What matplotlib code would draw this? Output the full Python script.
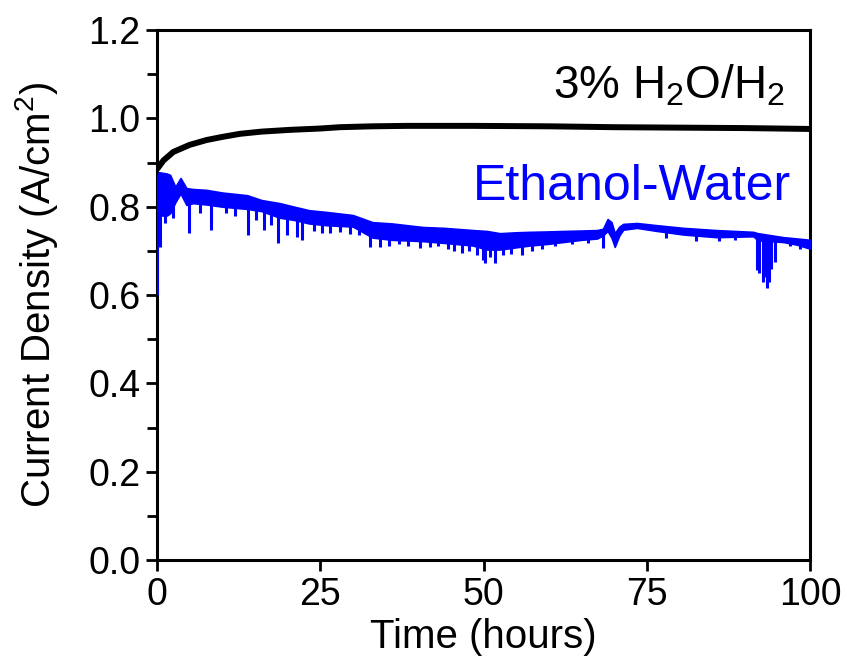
import numpy as np
import matplotlib
matplotlib.use('Agg')
import matplotlib.pyplot as plt

plt.rcParams['font.family'] = ['Liberation Sans', 'DejaVu Sans']
plt.rcParams['mathtext.fontset'] = 'custom'
plt.rcParams['mathtext.rm'] = 'Liberation Sans'

# 3% H2O/H2 run (black)
h2_time = [0, 0.5, 1, 2.5, 5, 7.6, 10, 12.7, 16, 20.4, 25, 28, 33, 38.3,
           48.4, 60, 70, 80, 90, 100]
h2_current = [0.885, 0.895, 0.905, 0.924, 0.94, 0.951, 0.958, 0.965, 0.97,
              0.974, 0.977, 0.98, 0.982, 0.983, 0.983, 0.982, 0.98, 0.979,
              0.978, 0.976]

# Ethanol-water run (blue): noisy band read as upper / lower envelope
eth_time = [0, 0.3, 1.5, 2.0, 2.8, 3.6, 4.5, 5.5, 7.6, 10, 13.8, 16, 18.8,
            21, 23.3, 26, 30, 33, 36, 40.7, 44, 48.4, 50.5, 52.5, 55, 57,
            60, 62.2, 65, 67.4, 68.3, 69, 69.6, 70.1, 70.8, 71.4, 73.5,
            76.6, 80.6, 85.7, 91.3, 92, 95.9, 98, 100]
eth_upper = [0.87, 0.878, 0.875, 0.872, 0.845, 0.865, 0.842, 0.84, 0.838,
             0.832, 0.826, 0.815, 0.808, 0.80, 0.792, 0.788, 0.781, 0.765,
             0.762, 0.754, 0.752, 0.747, 0.745, 0.74, 0.742, 0.743, 0.744,
             0.745, 0.746, 0.747, 0.75, 0.772, 0.765, 0.74, 0.755, 0.761,
             0.763, 0.758, 0.752, 0.747, 0.743, 0.74, 0.731, 0.728, 0.725]
eth_lower = [0.80, 0.78, 0.78, 0.785, 0.81, 0.83, 0.804, 0.808, 0.805,
             0.80, 0.795, 0.79, 0.775, 0.77, 0.762, 0.758, 0.755, 0.73,
             0.725, 0.722, 0.718, 0.712, 0.703, 0.703, 0.708, 0.712, 0.716,
             0.72, 0.725, 0.728, 0.735, 0.745, 0.73, 0.709, 0.735, 0.748,
             0.752, 0.745, 0.737, 0.731, 0.733, 0.724, 0.72, 0.714, 0.705]

# downward spikes in the ethanol-water trace (time, lowest value)
spike_time = [0.0, 0.5, 1.2, 2.4, 4.9, 6.6, 8.3, 10.5, 12.0, 13.9, 15.2,
              16.4, 17.5, 18.5, 19.9, 21.4, 22.2, 24.0, 25.2, 26.5, 28.0,
              29.5, 31.0, 32.6, 34.1, 35.5, 37.0, 38.5, 40.3, 41.8, 43.0,
              44.5, 45.5, 46.7, 47.8, 49.0, 49.9, 50.2, 51.0, 51.8, 53.0,
              54.2, 55.9, 57.5, 59.0, 61.0, 63.5, 66.0, 68.3, 78.0, 82.5,
              86.0, 88.5, 91.9, 92.2, 92.8, 93.0, 93.4, 93.7, 94.0, 94.6,
              97.0, 98.5]
spike_low = [0.60, 0.709, 0.763, 0.775, 0.74, 0.785, 0.747, 0.785, 0.78,
             0.736, 0.77, 0.747, 0.758, 0.718, 0.736, 0.731, 0.725, 0.745,
             0.74, 0.74, 0.742, 0.738, 0.735, 0.709, 0.709, 0.712, 0.715,
             0.71, 0.706, 0.708, 0.71, 0.705, 0.7, 0.695, 0.7, 0.69, 0.679,
             0.672, 0.685, 0.672, 0.69, 0.693, 0.69, 0.7, 0.705, 0.71, 0.715,
             0.718, 0.706, 0.728, 0.722, 0.722, 0.725, 0.657, 0.65, 0.63,
             0.64, 0.616, 0.63, 0.66, 0.675, 0.71, 0.705]

BLUE = '#0000ff'

fig = plt.figure(figsize=(8.47, 6.6), dpi=100)
ax = fig.add_axes([0.1854, 0.1515, 0.7709, 0.803])

ax.plot(h2_time, h2_current, color='black', lw=4.3, solid_capstyle='butt',
        zorder=2)

ax.fill_between(eth_time, eth_lower, eth_upper, color=BLUE, lw=1.2,
                edgecolor=BLUE, zorder=3)
spike_top = np.interp(spike_time, eth_time, eth_lower) + 0.005
ax.vlines(spike_time, spike_low, spike_top, color=BLUE, lw=2.2, zorder=3)

ax.text(60.6, 1.045, '3% H$_\\mathregular{2}$O/H$_\\mathregular{2}$',
        fontsize=33, color='black', ha='left', va='baseline')
ax.text(48.4, 0.815, 'Ethanol-Water', fontsize=36, color=BLUE,
        ha='left', va='baseline')

ax.set_xlim(0, 100)
ax.set_ylim(0, 1.2)
ax.set_xticks([0, 25, 50, 75, 100])
ax.set_yticks(np.arange(0, 1.21, 0.2))
ax.set_yticks(np.arange(0.1, 1.2, 0.2), minor=True)
ax.set_yticklabels(['0.0', '0.2', '0.4', '0.6', '0.8', '1.0', '1.2'])

ax.tick_params(axis='both', which='major', direction='out', length=8,
               width=2, labelsize=27, pad=4)
ax.tick_params(axis='y', which='minor', direction='out', length=7, width=2)
ax.tick_params(axis='x', which='minor', bottom=False)
for spine in ax.spines.values():
    spine.set_linewidth(2.2)

ax.set_xlabel('Time (hours)', fontsize=29, labelpad=4)
ax.set_ylabel('Current Density (A/cm$^\\mathregular{2}$)', fontsize=29,
              labelpad=20)

fig.savefig('out.png', dpi=100)
